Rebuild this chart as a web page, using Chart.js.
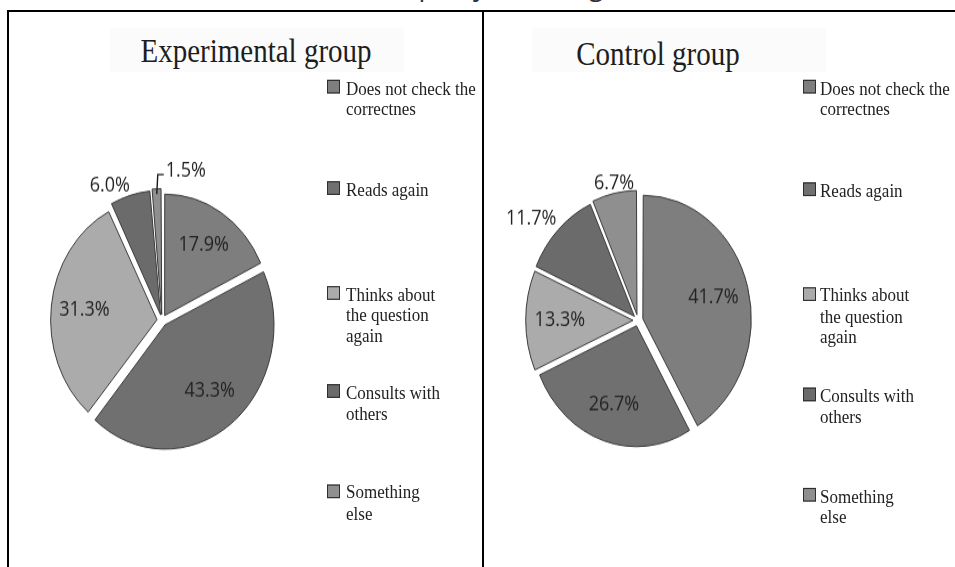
<!DOCTYPE html>
<html>
<head>
<meta charset="utf-8">
<title>Checking answers: experimental vs control group</title>
<script src="https://cdn.jsdelivr.net/npm/chart.js@4.4.1/dist/chart.umd.min.js"></script>
<style>
  html, body { margin: 0; padding: 0; background: #fff; }
  #stage { position: relative; width: 955px; height: 567px; overflow: hidden; background: #fff; }
  .caption {
    position: absolute; left: 355px; top: -29.5px;
    font: 27px/27px "Open Sans", sans-serif; color: #333; white-space: nowrap;
  }
  .rule { position: absolute; background: #000; }
  /* panel contents are drawn then stretched vertically */
  .panel { position: absolute; top: 0; width: 473px; height: 500px; transform: scaleY(1.14); transform-origin: 0 0; }
  .panel .head {
    position: absolute; width: 294px; height: 38px; background: #fbfbfb;
  }
  .panel h2 {
    position: absolute; left: 0; width: 100%; margin: 0; text-align: center;
    font: 400 29px/29px "Liberation Serif", "Times New Roman", serif; color: #1e1e1e; white-space: nowrap;
  }
  .panel canvas { position: absolute; }
  .item { position: absolute; font: 17px/18.4px "Liberation Serif", "Times New Roman", serif; color: #222; white-space: nowrap; }
  .swatch { position: absolute; width: 11px; height: 10px; border: 1px solid #2e2e2e; }
</style>
</head>
<body>
<div id="stage">
  <div class="caption">Group I by checking</div>
  <div class="panel" id="panel-exp" style="left:0px"></div>
  <div class="panel" id="panel-ctl" style="left:482px"></div>
  <div class="rule" style="left:7px;top:10px;width:948px;height:2px"></div>
  <div class="rule" style="left:7px;top:10px;width:2px;height:560px"></div>
  <div class="rule" style="left:482px;top:10px;width:2px;height:560px"></div>
</div>
<script>
// categories (legend text, one entry per line)
const CATEGORIES = [
  ["Does not check the", "correctnes"],
  ["Reads again"],
  ["Thinks about", "the question", "again"],
  ["Consults with", "others"],
  ["Something", "else"],
];
// share of answers, percent
const EXPERIMENTAL = [17.9, 43.3, 31.3, 6.0, 1.5];
const CONTROL = [41.7, 26.7, 13.3, 11.7, 6.7];
const SLICE_COLORS = ["#7e7e7e", "#707070", "#ababab", "#6b6b6b", "#8f8f8f"];

// layout (unstretched panel coordinates)
const PIE_SIZE = 300;
const PIE_RADIUS = 106;
const SLICE_SHIFT = 5;          // explode distance in px
const LINE_H = 18.4;

const PANELS = [
  {
    id: "panel-exp", title: "Experimental group", values: EXPERIMENTAL,
    titleX: 256, titleY: 30, headX: 110, headY: 25,
    pieX: 162, pieY: 280.7,
    swatchX: 327, textX: 346, rows: [78.1, 166.7, 258.8, 344.7, 432.5],
  },
  {
    id: "panel-ctl", title: "Control group", values: CONTROL,
    titleX: 176, titleY: 32.5, headX: 50, headY: 25,
    pieX: 155.5, pieY: 280.7,
    swatchX: 321, textX: 338, rows: [78.1, 168.4, 259.6, 348.2, 436],
  },
];

// percentage labels: inside for big slices, outside for small ones,
// with a leader line for the tiniest
const pctLabels = {
  id: "pctLabels",
  afterDatasetsDraw(chart) {
    const ctx = chart.ctx;
    const ds = chart.data.datasets[0];
    const shift = (ds.offset || 0) / 4;
    const meta = chart.getDatasetMeta(0);
    ctx.save();
    ctx.font = '18px "Open Sans", sans-serif';
    ctx.fillStyle = "#232323";
    ctx.strokeStyle = "#1a1a1a";
    ctx.lineWidth = 1.4;
    ctx.textBaseline = "middle";
    meta.data.forEach((arc, i) => {
      const p = arc.getProps(["x", "y", "startAngle", "endAngle", "outerRadius"], true);
      const v = ds.data[i];
      const mid = (p.startAngle + p.endAngle) / 2;
      const cos = Math.cos(mid), sin = Math.sin(mid);
      const text = v.toFixed(1) + "%";
      const w = ctx.measureText(text).width;
      const h = 16;
      if (v >= 12) {
        const d = p.outerRadius * 0.69 + shift;
        ctx.textAlign = "center";
        ctx.fillText(text, p.x + cos * d, p.y + sin * d);
      } else if (v >= 3) {
        // outside end: centred when near the vertical, otherwise pushed to the side
        const R = p.outerRadius + shift + 4;
        let lx = p.x + cos * R;
        const ly = p.y + sin * R + Math.sign(sin) * h / 2;
        if (Math.abs(cos) >= 0.25) lx += Math.sign(cos) * w / 2;
        ctx.textAlign = "center";
        ctx.fillText(text, lx, ly);
      } else {
        const x0 = p.x + cos * (p.outerRadius + shift);
        const y0 = p.y + sin * (p.outerRadius + shift);
        const y1 = y0 - 17;
        ctx.beginPath();
        ctx.moveTo(x0, y0);
        ctx.lineTo(x0 + 1, y1);
        ctx.lineTo(x0 + 7, y1);
        ctx.stroke();
        ctx.textAlign = "left";
        ctx.fillText(text, x0 + 9, y1 - 3);
      }
    });
    ctx.restore();
  },
};

function buildPanel(cfg) {
  const panel = document.getElementById(cfg.id);

  const head = document.createElement("div");
  head.className = "head";
  head.style.left = cfg.headX + "px";
  head.style.top = cfg.headY + "px";
  panel.appendChild(head);

  const h2 = document.createElement("h2");
  h2.textContent = cfg.title;
  h2.style.left = (cfg.titleX - 200) + "px";
  h2.style.width = "400px";
  h2.style.top = cfg.titleY + "px";
  panel.appendChild(h2);

  const canvas = document.createElement("canvas");
  canvas.width = PIE_SIZE;
  canvas.height = PIE_SIZE;
  canvas.style.left = (cfg.pieX - PIE_SIZE / 2) + "px";
  canvas.style.top = (cfg.pieY - PIE_SIZE / 2) + "px";
  panel.appendChild(canvas);

  CATEGORIES.forEach((lines, i) => {
    const top = cfg.rows[i];
    const sw = document.createElement("div");
    sw.className = "swatch";
    sw.style.background = SLICE_COLORS[i];
    sw.style.left = cfg.swatchX + "px";
    sw.style.top = (top - 8) + "px";
    panel.appendChild(sw);

    const item = document.createElement("div");
    item.className = "item";
    item.style.left = cfg.textX + "px";
    item.style.top = (top - LINE_H / 2) + "px";
    item.innerHTML = lines.join("<br>");
    panel.appendChild(item);
  });

  new Chart(canvas, {
    type: "pie",
    data: {
      labels: CATEGORIES.map((l) => l.join(" ")),
      datasets: [{
        data: cfg.values,
        backgroundColor: SLICE_COLORS,
        borderColor: "#3a3a3a",
        borderWidth: 1,
        offset: SLICE_SHIFT * 4,
      }],
    },
    options: {
      responsive: false,
      animation: false,
      radius: PIE_RADIUS,
      layout: { padding: 0 },
      events: [],
      plugins: {
        legend: { display: false },
        title: { display: false },
        tooltip: { enabled: false },
      },
    },
    plugins: [pctLabels],
  });
}

PANELS.forEach(buildPanel);
</script>
</body>
</html>
